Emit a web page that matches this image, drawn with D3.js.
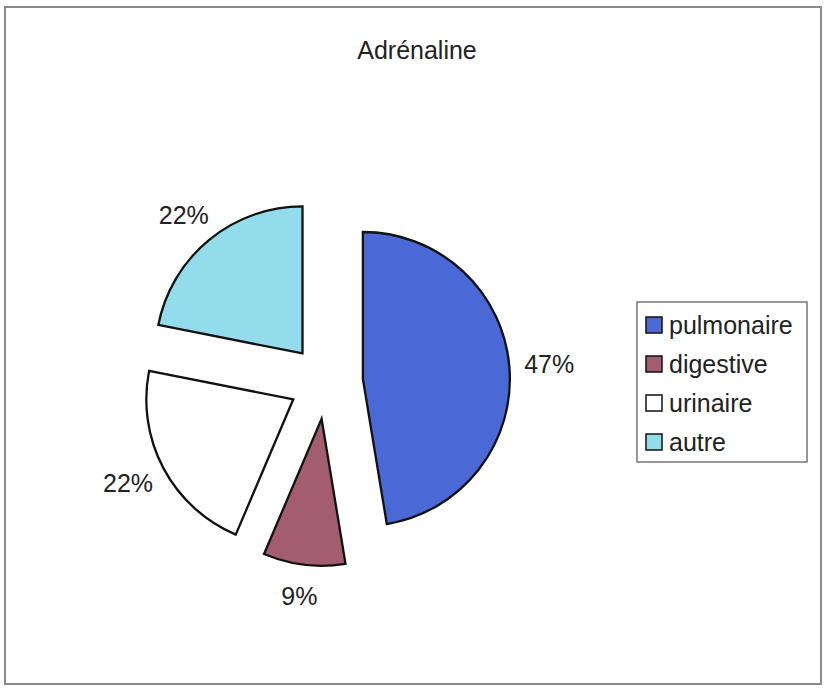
<!DOCTYPE html>
<html>
<head>
<meta charset="utf-8">
<script src="https://cdn.jsdelivr.net/npm/d3@7"></script>
<style>
  body { margin: 0; background: #fff; }
  text { font-family: "Liberation Sans", Arial, sans-serif; fill: #222; }
</style>
</head>
<body>
<div class="chart"></div>
<script>
var categories = ["pulmonaire", "digestive", "urinaire", "autre"];
var values = [47.4, 9.0, 21.7, 21.9];
var colors = ["#4a69d6", "#a35c70", "#ffffff", "#92dcec"];
var title = "Adrénaline";

function init() {
    var w = 825;
    var h = 688;
    var cx = 326, cy = 382;
    var radius = 147;
    var explode = 37;
    var labelRx = 187, labelRy = 179;

    var svg = d3.select(".chart")
        .append("svg")
        .attr("width", w)
        .attr("height", h);

    // outer frame
    svg.append("rect")
        .attr("x", 5).attr("y", 7)
        .attr("width", 816).attr("height", 677)
        .attr("fill", "#fff")
        .attr("stroke", "#8a8a8a")
        .attr("stroke-width", 2);

    svg.append("text")
        .attr("x", 417)
        .attr("y", 59)
        .attr("text-anchor", "middle")
        .style("font-size", "25px")
        .text(title);

    var pie = d3.pie().sort(null);
    var arc = d3.arc().innerRadius(0).outerRadius(radius);

    var total = d3.sum(values);
    var arcs = svg.selectAll("g.arc")
        .data(pie(values))
        .enter()
        .append("g")
        .attr("class", "arc")
        .attr("transform", function(d) {
            var a = (d.startAngle + d.endAngle) / 2;
            return "translate(" + (cx + explode * Math.sin(a)) + "," + (cy - explode * Math.cos(a)) + ")";
        });

    arcs.append("path")
        .attr("d", arc)
        .attr("fill", function(d, i) { return colors[i]; })
        .attr("stroke", "#111")
        .attr("stroke-width", 2.3)
        .attr("stroke-linejoin", "miter");

    arcs.append("text")
        .attr("x", function(d) { return labelRx * Math.sin((d.startAngle + d.endAngle) / 2); })
        .attr("y", function(d) { return -labelRy * Math.cos((d.startAngle + d.endAngle) / 2); })
        .attr("dy", "0.36em")
        .attr("text-anchor", "middle")
        .style("font-size", "25px")
        .text(function(d) { return Math.round(d.value / total * 100) + "%"; });

    // legend
    var legend = svg.append("g").attr("transform", "translate(637,302)");
    legend.append("rect")
        .attr("width", 170).attr("height", 160)
        .attr("fill", "#fff")
        .attr("stroke", "#777")
        .attr("stroke-width", 1.5);

    var rowY = d3.scalePoint().domain(categories).range([23, 140]);

    var items = legend.selectAll("g.item")
        .data(categories)
        .enter()
        .append("g")
        .attr("class", "item")
        .attr("transform", function(d) { return "translate(0," + rowY(d) + ")"; });

    items.append("rect")
        .attr("x", 9).attr("y", -8)
        .attr("width", 16).attr("height", 16)
        .attr("fill", function(d, i) { return colors[i]; })
        .attr("stroke", "#111")
        .attr("stroke-width", 1.5);

    items.append("text")
        .attr("x", 32)
        .attr("dy", "0.36em")
        .style("font-size", "25px")
        .text(function(d) { return d; });
}

init()
</script>
</body>
</html>
